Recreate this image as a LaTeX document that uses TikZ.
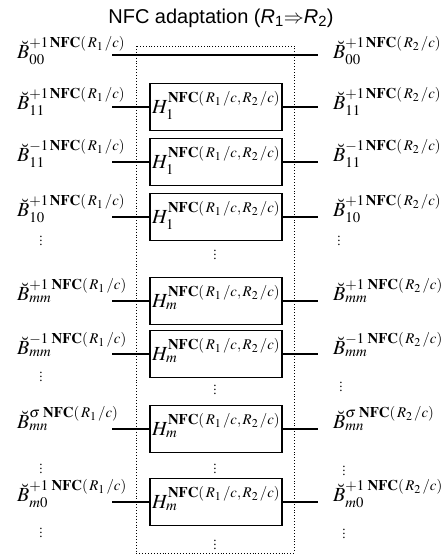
\documentclass[tikz,border=0pt]{standalone}
\usepackage{mathptmx}
\usepackage{fontspec}
\setmainfont{Liberation Serif}
\newfontfamily\titlefont{Liberation Sans}
\begin{document}
\begin{tikzpicture}[x=1pt,y=-1pt,
  lbl/.style={anchor=base west, inner sep=0pt, font=\fontsize{20}{24}\selectfont},
  hbox/.style={draw, line width=1.3pt, minimum width=132pt, minimum height=47pt, inner sep=0pt},
  htext/.style={anchor=base west, inner sep=0pt, font=\fontsize{20}{24}\selectfont},
  dotsn/.style={inner sep=0pt, font=\fontsize{13}{15}\selectfont},
  wire/.style={line width=1.3pt},
  frame/.style={dotted, line width=0.9pt}
]
\useasboundingbox (0,0) rectangle (443,557);

% title
\node[inner sep=0pt, anchor=base, font=\titlefont\fontsize{20}{24}\selectfont] (title) at (221,23)
  {NFC adaptation (\textit{R}\textsubscript{1}$\Rightarrow$\textit{R}\textsubscript{2})};

% dotted frame
\draw[frame] (136,46) rectangle (294,553);

% boxes
\foreach \i/\y in {1/107,2/162,3/217,4/301,5/354,6/429,7/502}{
  \node[hbox] (h\i) at (216,\y) {};
}
% box texts
\foreach \i/\y/\s in {1/107/1,2/162/1,3/217/1,4/301/m,5/354/m,6/429/m,7/502/m}{
  \node[htext] (ht\i) at (152,\y+6) {$H_{\s}^{\mathbf{NFC}(\,R_1\,/c,\,R_2\,/c)}$};
}

% left labels
\node[lbl] (l0) at (17,58)  {$\breve{B}^{+1\,\mathbf{NFC}(\,R_1\,/c)}_{00}$};
\node[lbl] (l1) at (17,109) {$\breve{B}^{+1\,\mathbf{NFC}(\,R_1\,/c)}_{11}$};
\node[lbl] (l2) at (17,161) {$\breve{B}^{-1\,\mathbf{NFC}(\,R_1\,/c)}_{11}$};
\node[lbl] (l3) at (17,216) {$\breve{B}^{+1\,\mathbf{NFC}(\,R_1\,/c)}_{10}$};
\node[lbl] (l4) at (17,300) {$\breve{B}^{+1\;\mathbf{NFC}(\,R_1\,/c)}_{mm}$};
\node[lbl] (l5) at (17,354) {$\breve{B}^{-1\;\mathbf{NFC}(\,R_1\,/c)}_{mm}$};
\node[lbl] (l6) at (17,428) {$\breve{B}^{\sigma\;\mathbf{NFC}(\,R_1\,/c)}_{mn}$};
\node[lbl] (l7) at (17,501) {$\breve{B}^{+1\;\mathbf{NFC}(\,R_1\,/c)}_{m0}$};

% right labels
\node[lbl] (r0) at (333,58)  {$\breve{B}^{+1\,\mathbf{NFC}(\,R_2\,/c)}_{00}$};
\node[lbl] (r1) at (333,109) {$\breve{B}^{+1\,\mathbf{NFC}(\,R_2\,/c)}_{11}$};
\node[lbl] (r2) at (333,161) {$\breve{B}^{-1\,\mathbf{NFC}(\,R_2\,/c)}_{11}$};
\node[lbl] (r3) at (333,216) {$\breve{B}^{+1\,\mathbf{NFC}(\,R_2\,/c)}_{10}$};
\node[lbl] (r4) at (333,300) {$\breve{B}^{+1\;\mathbf{NFC}(\,R_2\,/c)}_{mm}$};
\node[lbl] (r5) at (333,354) {$\breve{B}^{-1\;\mathbf{NFC}(\,R_2\,/c)}_{mm}$};
\node[lbl] (r6) at (333,428) {$\breve{B}^{\sigma\;\mathbf{NFC}(\,R_2\,/c)}_{mn}$};
\node[lbl] (r7) at (333,501) {$\breve{B}^{+1\;\mathbf{NFC}(\,R_2\,/c)}_{m0}$};

% wire end points
\foreach \i/\y in {0/55,1/107,2/162,3/217,4/301,5/354,6/429,7/502}{
  \coordinate (a\i) at (112,\y);
  \coordinate (b\i) at (318,\y);
}
\draw[wire] (a0) -- (b0);
\foreach \i in {1,...,7}{
  \draw[wire] (a\i) -- (h\i.west);
  \draw[wire] (h\i.east) -- (b\i);
}

% vertical dots
\node[dotsn] (ld1) at (41,238) {$\vdots$};
\node[dotsn] (ld2) at (41,374) {$\vdots$};
\node[dotsn] (ld3) at (41,466) {$\vdots$};
\node[dotsn] (ld4) at (41,530) {$\vdots$};
\node[dotsn] (rd1) at (339,238) {$\vdots$};
\node[dotsn] (rd2) at (341,384) {$\vdots$};
\node[dotsn] (rd3) at (344,468) {$\vdots$};
\node[dotsn] (rd4) at (344,531) {$\vdots$};
\node[dotsn] (cd1) at (215,252) {$\vdots$};
\node[dotsn] (cd2) at (215,387) {$\vdots$};
\node[dotsn] (cd3) at (215,466) {$\vdots$};
\node[dotsn] (cd4) at (215,542) {$\vdots$};
\end{tikzpicture}
\end{document}
